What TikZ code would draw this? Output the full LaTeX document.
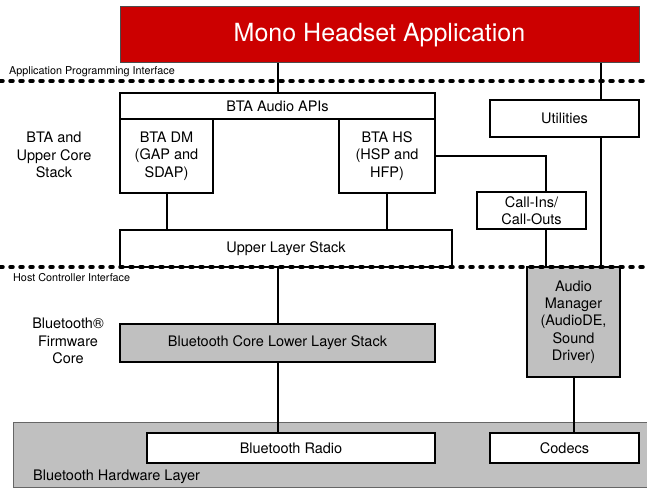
\documentclass[tikz,border=0pt]{standalone}
\usepackage{fontspec}
\setmainfont{TeX Gyre Heros}
\definecolor{appred}{HTML}{CC0000}
\definecolor{layergray}{HTML}{C0C0C0}
\newcommand{\blkfont}{\fontsize{14.5}{17.3}\selectfont}
\newcommand{\ifcfont}{\fontsize{10.8}{13}\selectfont}
\newcommand{\appfont}{\fontsize{25}{30}\selectfont}
\begin{document}
\begin{tikzpicture}[x=1pt,y=-1pt,
    blk/.style={draw,line width=2pt,fill=white,inner sep=0pt,align=center,font=\blkfont},
    grayblk/.style={blk,fill=layergray},
    ifcline/.style={line width=3.5pt,line cap=round,dash pattern=on 3pt off 7pt},
    link/.style={line width=2pt},
    sidelbl/.style={align=center,font=\blkfont},
    ifclbl/.style={anchor=west,inner sep=0pt,font=\ifcfont}]
  \useasboundingbox (0,0) rectangle (647,489);
  \node[draw=black!70,line width=1pt,fill=appred,text=white,inner sep=0pt,
    minimum width=519,minimum height=56,font=\appfont] (app) at (379.5,35) {Mono Headset Application};
  \node[ifclbl] (apilbl) at (9,72) {Application Programming Interface};
  \node[blk,minimum width=315,minimum height=26] (audioapi) at (277.5,106) {BTA Audio APIs};
  \node[blk,minimum width=93,minimum height=74] (dm) at (166.5,156) {BTA DM\\(GAP and\\SDAP)};
  \node[blk,minimum width=96,minimum height=74] (hs) at (387,156) {BTA HS\\(HSP and\\HFP)};
  \node[blk,minimum width=149,minimum height=37] (util) at (564.5,118.5) {Utilities};
  \node[blk,minimum width=109,minimum height=37] (cio) at (531.5,210.5) {Call-Ins/\\Call-Outs};
  \node[blk,minimum width=332,minimum height=37] (upper) at (286,248.5) {Upper Layer Stack};
  \node[sidelbl] (btalbl) at (54,155) {BTA and\\Upper Core\\Stack};
  \node[ifclbl] (hcilbl) at (13,278) {Host Controller Interface};
  \node[grayblk,minimum width=93,minimum height=110] (am) at (573.5,322) {Audio\\Manager\\(AudioDE,\\Sound\\Driver)};
  \node[grayblk,minimum width=315,minimum height=38] (core) at (277.5,343) {Bluetooth Core Lower Layer Stack};
  \node[sidelbl] (fwlbl) at (68,341) {Bluetooth®\\Firmware\\Core};
  \node[draw=black!60,line width=1pt,fill=layergray,inner sep=0pt,
    minimum width=660,minimum height=65] (hw) at (343,454.5) {};
  \node[blk,minimum width=288,minimum height=30] (radio) at (291,448) {Bluetooth Radio};
  \node[blk,minimum width=149,minimum height=30] (codec) at (564.5,448) {Codecs};
  \node[ifclbl,font=\blkfont] (hwlbl) at (33,477) {Bluetooth Hardware Layer};
  \coordinate (utap) at (601,0);
  \coordinate (ctap) at (546,0);
  \begin{scope}[link]
    \draw (app.south -| audioapi.north) -- (audioapi.north);
    \draw (app.south -| utap) -- (util.north -| utap);
    \draw (util.south -| utap) -- (am.north -| utap);
    \draw (dm.south) -- (dm.south |- upper.north);
    \draw (hs.south) -- (hs.south |- upper.north);
    \draw (hs.east) -| (cio.north -| ctap);
    \draw (cio.south -| ctap) -- (am.north -| ctap);
    \draw (upper.south -| core.north) -- (core.north);
    \draw (core.south) -- (core.south |- radio.north);
    \draw (am.south) -- (am.south |- codec.north);
  \end{scope}
  \draw[ifcline] (0,81) -- (647,81);
  \draw[ifcline] (0,267) -- (647,267);
\end{tikzpicture}
\end{document}
